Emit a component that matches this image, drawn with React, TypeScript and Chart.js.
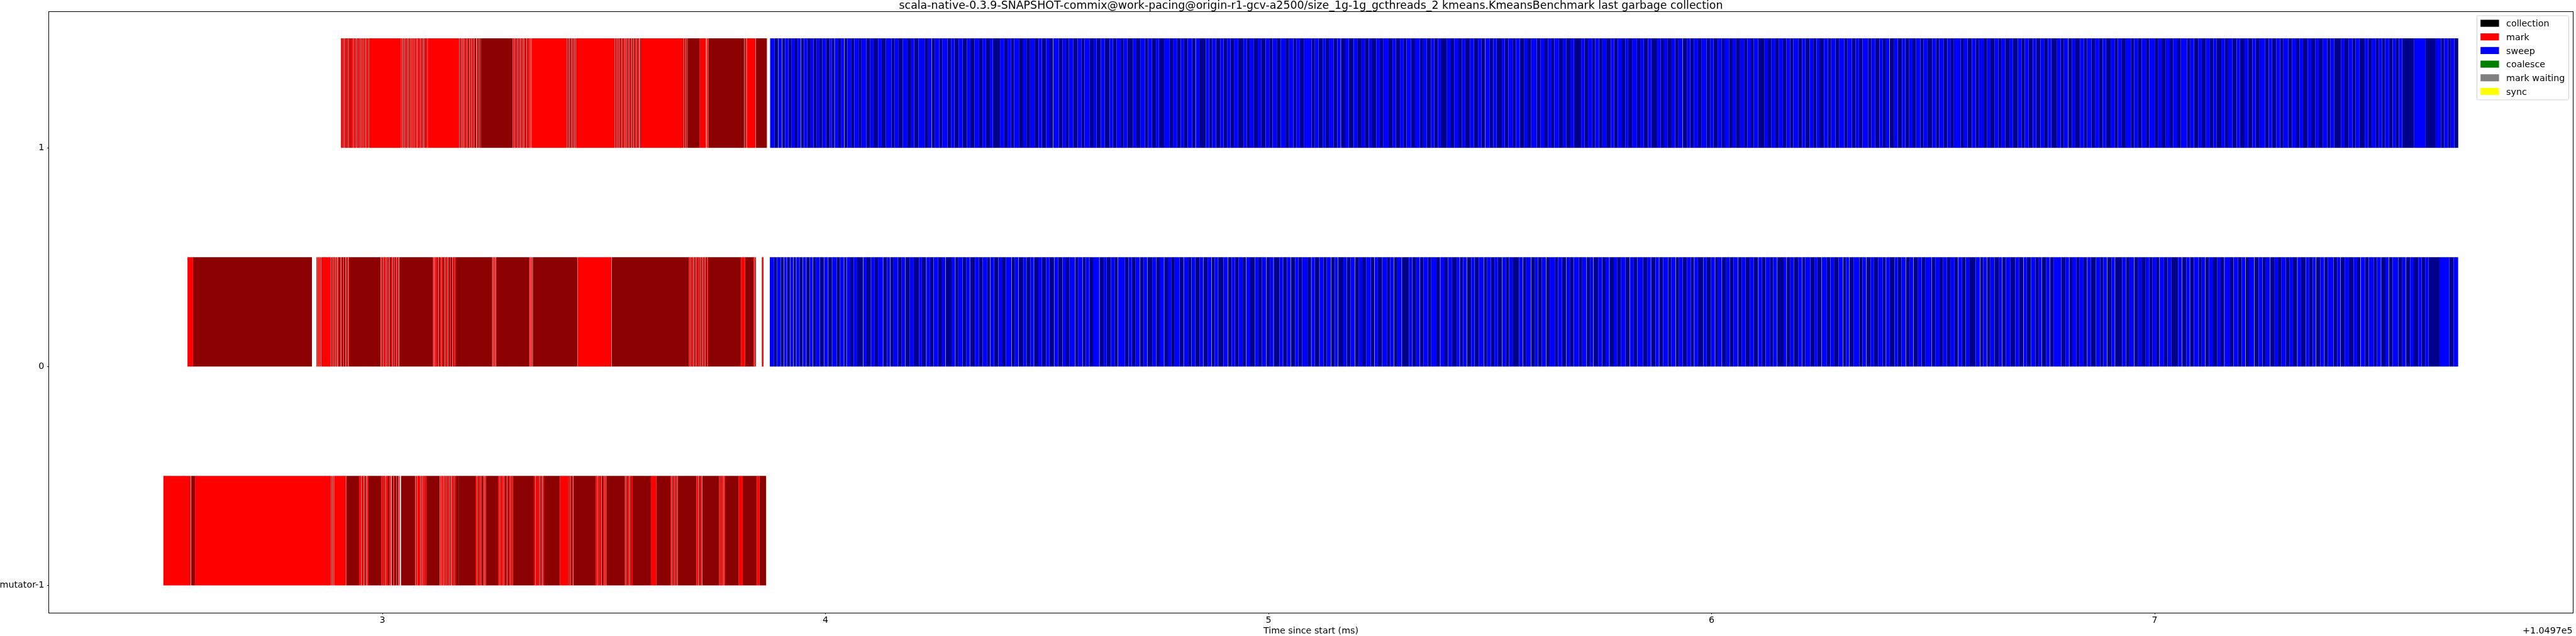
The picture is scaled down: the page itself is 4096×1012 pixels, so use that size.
import React, { useEffect, useRef } from 'react';
import { Chart, registerables } from 'chart.js';

Chart.register(...registerables);

// ---------------- data ----------------
const TITLE = 'scala-native-0.3.9-SNAPSHOT-commix@work-pacing@origin-r1-gcv-a2500/size_1g-1g_gcthreads_2 kmeans.KmeansBenchmark last garbage collection';
const X_LABEL = 'Time since start (ms)';
const X_OFFSET_TEXT = '+1.0497e5';
const X_MIN = 2.2466;
const X_MAX = 7.9447;
const Y_MIN = -1.125;
const Y_MAX = 1.625;
const xTicks = [3, 4, 5, 6, 7];
const rowValues = [-1, 0, 1];
const rowLabels = ['mutator-1', '0', '1'];
const BAR_HEIGHT = 0.5; // each row's bar spans [row, row + 0.5]

const legendLabels = ['collection', 'mark', 'sweep', 'coalesce', 'mark waiting', 'sync'];
const legendColors = ['#000000', '#ff0000', '#0000ff', '#008000', '#808080', '#ffff00'];

// durations in microseconds; 'm' mark, 'M' mark (alternate shade), 'g' idle gap
const mutatorMarkStart = 2.5056;
const mutatorMark: (string | number)[] = [
  'm', 61.8, 'g', 1.1, 'M', 8.5, 'm', 307.4, 'g', 0.7, 'M', 1.5, 'g', 0.7, 'm', 2.9, 'g', 0.7, 'm', 26.5, 'g', 0.7, 'M', 29.4,
  'm', 4.4, 'g', 0.7, 'm', 5.1, 'g', 0.7, 'm', 2.2, 'M', 2.9, 'm', 1.5, 'g', 0.7, 'm', 2.9, 'M', 29.4,
  'm', 4.4, 'M', 2.2, 'm', 2.9, 'g', 0.7, 'm', 4.4, 'M', 3.7, 'm', 2.9, 'g', 1.5, 'M', 3.7, 'm', 2.2, 'M', 4.4, 'g', 0.7, 'M', 3.7, 'g', 0.7, 'm', 2.9, 'g', 2.9, 'M', 32.4,
  'g', 0.7, 'm', 2.9, 'g', 0.7, 'm', 6.6, 'g', 0.7, 'm', 2.9, 'M', 1.5, 'g', 0.7, 'm', 3.7, 'M', 1.5, 'm', 2.9, 'M', 30.2,
  'g', 0.7, 'm', 2.9, 'g', 0.7, 'm', 3.7, 'g', 0.7, 'M', 1.5, 'm', 3.7, 'g', 0.7, 'M', 2.9, 'm', 3.7, 'g', 0.7, 'M', 2.2, 'm', 1.5, 'g', 0.7, 'm', 2.9, 'M', 2.2, 'm', 2.2, 'M', 1.5, 'm', 1.5, 'M', 5.9,
  'M', 38.2, 'm', 2.9, 'g', 0.7, 'm', 3.7, 'M', 2.2, 'm', 2.9, 'g', 0.7, 'M', 4.4, 'm', 2.9, 'g', 0.7, 'm', 2.2,
  'M', 27.9, 'm', 3.7, 'g', 0.7, 'M', 2.2, 'm', 4.4, 'g', 0.7, 'm', 2.9, 'M', 3.7, 'm', 2.2, 'g', 0.7, 'M', 2.9, 'm', 3.7, 'g', 0.7, 'M', 2.2, 'm', 2.9,
  'M', 47.1, 'm', 2.9, 'g', 0.7, 'm', 3.7, 'M', 1.5, 'm', 4.4, 'g', 0.7, 'M', 2.9, 'm', 2.2, 'g', 0.7, 'm', 2.9,
  'M', 36.0, 'm', 18.4, 'M', 2.2, 'm', 2.9, 'g', 0.7, 'M', 3.7, 'm', 2.2, 'g', 0.7,
  'M', 50.0, 'm', 3.7, 'g', 0.7, 'm', 2.9, 'M', 2.2, 'm', 3.7, 'g', 0.7, 'M', 2.9, 'm', 2.2, 'M', 1.5, 'm', 2.9, 'g', 0.7,
  'M', 41.9, 'm', 2.2, 'g', 0.7, 'M', 2.9, 'm', 3.7, 'g', 0.7, 'm', 2.2, 'M', 2.2, 'm', 2.9,
  'M', 41.2, 'm', 11.8, 'M', 32.4, 'm', 2.9, 'g', 0.7, 'M', 2.2, 'm', 3.7, 'g', 0.7, 'M', 2.9, 'm', 2.2, 'g', 0.7,
  'M', 42.7, 'm', 3.7, 'g', 0.7, 'm', 2.2, 'M', 2.9, 'm', 2.9, 'g', 0.7,
  'M', 38.2, 'm', 2.9, 'M', 2.2, 'm', 3.7, 'g', 0.7, 'M', 1.5, 'm', 2.2,
  'M', 30.9, 'm', 8.8, 'M', 31.6, 'm', 5.9, 'M', 15.4,
];

const row0MarkStart = 2.56;
const row0Mark: (string | number)[] = [
  'm', 12.5, 'M', 268.4, 'g', 10.3,
  'm', 2.9, 'g', 0.7, 'm', 2.9, 'g', 0.7, 'm', 2.9, 'g', 0.7, 'm', 21.6,
  'g', 0.7, 'M', 2.2, 'm', 2.2, 'g', 0.7, 'M', 1.5, 'm', 2.9, 'g', 0.7, 'M', 2.2, 'm', 1.5, 'g', 0.7, 'm', 2.9, 'M', 3.7, 'm', 1.5, 'g', 0.7, 'M', 2.9, 'm', 2.2, 'M', 3.7, 'g', 0.7, 'm', 2.2, 'M', 2.9, 'g', 0.7, 'm', 1.5,
  'M', 71.3,
  'g', 0.7, 'm', 2.9, 'M', 2.2, 'g', 0.7, 'm', 3.7, 'M', 1.5, 'm', 2.2, 'g', 0.7, 'M', 2.9, 'm', 2.2, 'g', 0.7, 'M', 3.7, 'm', 2.9, 'g', 0.7, 'M', 2.2, 'm', 2.2, 'M', 2.9, 'g', 0.7, 'm', 2.2, 'M', 2.2, 'm', 1.5, 'g', 0.7, 'M', 2.9,
  'M', 73.5,
  'g', 0.7, 'm', 2.2, 'g', 0.7, 'm', 2.9, 'M', 2.2, 'm', 3.7, 'g', 0.7, 'M', 2.9, 'm', 2.2, 'g', 0.7, 'm', 2.9, 'M', 3.7, 'g', 0.7, 'm', 2.2, 'M', 2.2, 'm', 2.9, 'g', 0.7, 'M', 2.9, 'm', 2.2, 'M', 3.7, 'g', 0.7, 'm', 2.2, 'M', 2.2, 'm', 2.2,
  'M', 83.1,
  'g', 0.7, 'm', 2.2, 'g', 0.7, 'M', 1.5, 'm', 2.2, 'g', 0.7, 'm', 0.8,
  'M', 75.0,
  'g', 0.7, 'm', 2.2, 'g', 0.7, 'm', 2.2, 'g', 0.7, 'M', 1.6,
  'M', 100.0, 'g', 0.7, 'm', 76.5, 'g', 0.7, 'M', 174.3,
  'm', 2.9, 'g', 0.7, 'M', 2.2, 'm', 3.7, 'g', 0.7, 'm', 2.2, 'M', 2.9, 'g', 0.7, 'm', 2.9, 'M', 2.2, 'm', 3.7, 'g', 0.7, 'M', 2.9, 'm', 2.2, 'g', 0.7, 'M', 2.2, 'm', 2.9, 'g', 0.7, 'M', 3.7, 'm', 2.2,
  'M', 74.3, 'm', 8.8, 'M', 19.9, 'm', 2.9, 'g', 0.7, 'M', 1.5, 'g', 13.2, 'm', 3.7,
];

const row1MarkStart = 2.9064;
const row1Mark: (string | number)[] = [
  'm', 2.9, 'M', 1.5, 'm', 2.9, 'g', 0.7, 'M', 1.5, 'm', 2.9, 'M', 2.2, 'm', 2.2, 'g', 0.7, 'M', 2.2, 'm', 2.9, 'M', 1.5, 'm', 3.7, 'g', 0.7, 'm', 2.9, 'M', 1.5, 'm', 2.9, 'g', 0.7, 'M', 2.2, 'm', 3.7, 'g', 0.7, 'm', 2.9, 'M', 1.5, 'm', 2.9, 'g', 0.7, 'M', 1.5, 'm', 2.9, 'g', 0.7, 'm', 2.9, 'M', 1.5, 'm', 2.2,
  'g', 0.7, 'm', 72.1,
  'g', 0.7, 'm', 2.9, 'g', 0.7, 'M', 1.5, 'm', 2.2, 'g', 0.7, 'm', 2.9, 'M', 1.5, 'g', 0.7, 'm', 2.9, 'g', 0.7, 'M', 2.2, 'm', 2.9, 'g', 0.7, 'm', 2.2, 'M', 1.5, 'm', 2.9, 'g', 0.7, 'M', 2.2, 'm', 2.9, 'g', 0.7, 'm', 2.2, 'M', 1.5, 'm', 2.9, 'g', 0.7, 'm', 2.9, 'M', 2.2, 'g', 0.7, 'm', 2.9, 'g', 0.7, 'M', 1.5, 'm', 5.1,
  'g', 0.7, 'm', 71.4,
  'g', 0.7, 'M', 2.2, 'm', 2.9, 'g', 0.7, 'm', 2.2, 'M', 1.5, 'g', 0.7, 'm', 2.9, 'M', 2.2, 'g', 0.7, 'm', 2.2, 'M', 2.9, 'g', 0.7, 'm', 2.2, 'M', 1.5, 'g', 0.7, 'm', 2.9, 'M', 2.2, 'g', 0.7, 'm', 2.2, 'M', 2.9, 'g', 0.7, 'm', 1.5, 'M', 2.9, 'g', 0.7, 'M', 2.2, 'm', 1.5, 'M', 2.9,
  'M', 70.6,
  'g', 0.7, 'm', 2.9, 'g', 0.7, 'm', 2.2, 'M', 1.5, 'm', 2.9, 'g', 0.7, 'M', 2.2, 'm', 2.9, 'g', 0.7, 'm', 2.2, 'M', 2.2, 'g', 0.7, 'm', 2.9, 'g', 0.7, 'M', 1.5, 'm', 2.9, 'g', 0.7, 'm', 2.2, 'M', 2.2, 'm', 2.9, 'g', 0.7, 'm', 2.2, 'g', 0.7,
  'm', 80.0,
  'g', 0.7, 'M', 2.2, 'm', 2.2, 'g', 0.7, 'M', 2.9, 'm', 2.2, 'g', 0.7, 'M', 2.2, 'm', 2.9, 'g', 0.7, 'M', 2.2, 'g', 0.7,
  'm', 87.5,
  'g', 0.7, 'M', 2.2, 'm', 2.9, 'g', 0.7, 'M', 1.5, 'm', 2.2, 'g', 0.7, 'M', 2.9, 'm', 2.2, 'g', 0.7, 'M', 2.2, 'm', 2.9, 'g', 0.7, 'M', 1.5, 'm', 2.2, 'g', 0.7, 'M', 2.9, 'm', 2.2, 'g', 0.7, 'M', 2.2, 'm', 2.9, 'g', 0.7, 'M', 2.2, 'm', 2.2, 'g', 0.7, 'M', 2.9, 'm', 2.2, 'g', 0.7, 'M', 2.2, 'm', 2.9, 'g', 0.7, 'M', 1.5, 'g', 0.7, 'M', 1.5,
  'm', 97.1,
  'g', 0.7, 'M', 1.5, 'm', 2.2, 'g', 0.7, 'M', 2.2, 'm', 0.8,
  'M', 27.9, 'm', 14.0, 'g', 1.5, 'm', 2.9, 'g', 0.7,
  'M', 80.9, 'g', 0.7, 'M', 2.9, 'm', 1.5, 'g', 0.8,
  'm', 19.9, 'g', 0.7, 'M', 24.3, 'g', 0.7, 'm', 0.7,
];

// sweep durations in microseconds: positive = sweep event (shades alternate),
// negative = idle gap, 'c' = coalesce event
const COALESCE_US = 0.6;
const row0SweepStart = 3.8743;
const row0Sweep: (string | number)[] = [
  9.6, 5.9, 'c', 8.1, 'c', 6.6, -0.7, 5.9, -0.7, 6.6, -0.7, 6.6, -0.7, 5.9, -0.7, 6.6, 'c', 6.6, -0.7, 7.4, -0.7, 7.4, 'c', 6.6, -0.7, 5.9, 8.8, 'c', 8.8, -0.7, 8.8, -0.7, 8.1, 'c', 9.6, 'c', 7.4, 'c', 8.1, -0.7, 5.1, -0.7, 8.1,
  7.4, 8.1, 13.2, -0.7, 7.4, 9.6, 'c', 8.1, 7.4, 11.0, -0.7, 8.8, 6.6, -0.7, 7.4, 9.6, 'c', 8.1, 7.4, -0.7, 10.3, 8.8,
  11.8, 6.6, 9.6, -0.7, 8.1, 7.4, 'c', 10.3, 8.8, 7.4, -0.7, 13.2, 8.1, -0.7, 6.6, 9.6, 'c', 8.1, 7.4, -0.7, 11.0, 8.8,
  8.8, 10.3, 6.6, -0.7, 8.1, 9.6, 'c', 7.4, 8.8, 12.5, -0.7, 7.4, 8.1, -0.7, 10.3, 6.6, 'c', 8.8, 7.4, -0.7, 9.6, 8.1,
  9.6, 7.4, 10.3, -0.7, 8.8, 9.6, 'c', 7.4, 8.1, 11.8, -0.7, 6.6, 9.6, -0.7, 7.4, 7.4, 'c', 8.1, 14.0, -0.7, 9.6, 6.6,
  9.6, 8.1, 7.4, -0.7, 15.4, 8.1, 'c', 6.6, 8.8, 9.6, -0.7, 7.4, 8.1, -0.7, 11.0, 8.8, 'c', 7.4, 9.6, -0.7, 8.1, 7.4,
  8.1, 11.0, 8.8, -0.7, 9.6, 7.4, 'c', 8.1, 10.3, 7.4, -0.7, 9.6, 8.8, -0.7, 6.6, 7.4, 'c', 11.8, 9.6, -0.7, 8.1, 7.4,
  8.1, 9.6, 7.4, -0.7, 8.8, 10.3, 'c', 7.4, 8.1, 9.6, -0.7, 7.4, 8.1, -0.7, 13.2, 7.4, 'c', 8.8, 8.1, -0.7, 9.6, 7.4,
  8.1, 12.5, 8.1, -0.7, 7.4, 10.3, 'c', 8.8, 7.4, 9.6, -0.7, 8.1, 6.6, -0.7, 11.8, 7.4, 'c', 8.1, 9.6, -0.7, 8.8, 7.4,
  8.8, 10.3, 8.1, -0.7, 7.4, 9.6, 'c', 11.0, 6.6, 8.1, -0.7, 7.4, 9.6, -0.7, 16.2, 6.6, 'c', 8.8, 8.1, -0.7, 7.4, 10.3,
  7.4, 11.8, 8.1, -0.7, 9.6, 7.4, 'c', 8.8, 10.3, 6.6, -0.7, 7.4, 8.1, -0.7, 9.6, 7.4, 'c', 8.8, 11.0, -0.7, 7.4, 8.1,
  8.1, 7.4, 9.6, -0.7, 8.8, 6.6, 'c', 7.4, 14.7, 8.1, -0.7, 7.4, 10.3, -0.7, 8.8, 6.6, 'c', 8.1, 9.6, -0.7, 7.4, 12.5,
  6.6, 8.8, 9.6, -0.7, 7.4, 8.1, 'c', 11.8, 7.4, 9.6, -0.7, 8.1, 6.6, -0.7, 10.3, 8.8, 'c', 7.4, 8.1, -0.7, 9.6, 7.4,
  8.5, 10.3, 9.6, -0.7, 8.8, 7.4, 'c', 12.5, 9.6, 8.1, -0.7, 10.3, 7.4, -0.7, 8.8, 11.0, 'c', 6.6, 9.6, -0.7, 7.4, 8.1,
  9.6, 8.8, 7.4, -0.7, 8.1, 11.8, 'c', 7.4, 9.6, 8.8, -0.7, 6.6, 8.1, -0.7, 9.6, 7.4, 'c', 8.1, 10.3, -0.7, 7.4, 8.8,
  9.6, 8.8, 10.3, -0.7, 7.4, 8.1, 'c', 9.6, 7.4, 8.8, -0.7, 14.0, 6.6, -0.7, 8.1, 7.4, 'c', 9.6, 8.1, -0.7, 7.4, 11.0,
  9.6, 6.6, 8.8, -0.7, 11.8, 7.4, 'c', 8.1, 10.3, 9.6, -0.7, 6.6, 7.4, -0.7, 8.8, 12.5, 'c', 7.4, 8.1, -0.7, 9.6, 7.4,
  9.7, 9.6, 7.4, -0.7, 8.1, 11.0, 'c', 6.6, 8.1, 9.6, -0.7, 8.8, 7.4, -0.7, 10.3, 8.1, 'c', 7.4, 14.0, -0.7, 8.1, 9.6, 7.4, 8.8,
  8.1, 9.6, 7.4, -0.7, 8.8, 8.1, 'c', 7.4, 14.7, 9.6, -0.7, 6.6, 8.1, -0.7, 7.4, 8.8, 'c', 9.6, 7.4, -0.7, 8.1, 10.3,
  11.0, 8.1, 9.6, -0.7, 7.4, 8.8, 'c', 10.3, 7.4, 6.6, -0.7, 9.6, 8.1, -0.7, 7.4, 17.6, 'c', 8.8, 8.1, -0.7, 6.6, 9.6,
  6.2, 9.6, 8.1, -0.7, 7.4, 11.8, 'c', 8.8, 7.4, 8.1, -0.7, 9.6, 7.4, -0.7, 16.2, 8.1, 'c', 7.4, 10.3, -0.7, 8.8, 7.4, 9.6, 8.1,
  7.4, 8.8, 6.6, -0.7, 9.6, 8.1, 'c', 7.4, 16.2, 8.1, -0.7, 9.6, 7.4, -0.7, 8.8, 10.3, 'c', 6.6, 8.1, -0.7, 7.4, 9.6,
  9.6, 7.4, 8.1, -0.7, 12.5, 7.4, 'c', 9.6, 8.8, 8.1, -0.7, 7.4, 11.8, -0.7, 9.6, 8.1, 'c', 7.4, 8.8, -0.7, 10.3, 7.4, 8.1, 9.6,
  8.8, 7.4, 9.6, -0.7, 8.1, 10.3, 'c', 7.4, 8.1, 6.6, -0.7, 9.6, 8.8, -0.7, 7.4, 12.5, 'c', 8.1, 7.4, -0.7, 8.8, 9.6,
  10.4, 8.1, 7.4, -0.7, 9.6, 8.1, 'c', 11.0, 7.4, 8.8, -0.7, 9.6, 7.4, -0.7, 8.1, 12.5, 'c', 8.8, 7.4, -0.7, 9.6, 8.1, 10.3, 7.4,
  8.1, 7.4, 25.0, 22.1, 9.6, 10.3,
];

const row1SweepStart = 3.875;
const row1Sweep: (string | number)[] = [
  9.6, 8.8, -0.7, 7.4, -0.7, 6.6, 7.4, 7.4, 7.4, 5.9, 7.4, -0.7, 6.6, 7.4, 7.4, 6.6, 7.4, 5.9, 6.6, 8.1, 8.8, 4.4, 5.9, -0.7, 8.1, 5.9, 7.4, -0.7, 6.6,
  8.1, 7.4, 9.6, 6.6, 11.0, 8.8, 7.4, 10.3, 8.1, 9.6, 12.5, 7.4, 8.8, 9.6, 10.3, 8.5,
  6.6, 9.6, 14.0, 8.1, 7.4, -0.7, 7.4, 9.6, 6.6, 11.8, 8.1, 7.4, 9.6, 8.8, 10.3, 7.4, 9.6,
  10.3, 7.4, 8.1, 8.8, 6.6, 16.2, 9.6, 7.4, 8.1, 6.6, 11.0, 9.6, 7.4, 8.1, 10.3, 8.8,
  7.4, 9.6, 8.1, 7.4, -0.7, 12.5, 8.8, 7.4, 6.6, 9.6, 10.3, 8.1, 7.4, 11.8, 8.8, 6.6, 9.6,
  8.8, 11.0, 7.4, 8.1, 9.6, 6.6, 8.1, 13.2, 7.4, 8.8, 10.3, 7.4, 8.1, 9.6, 6.6, 11.8,
  12.5, 7.4, 9.6, 8.1, 6.6, 8.8, 10.3, 7.4, -0.7, 8.1, 14.7, 7.4, 6.6, 8.8, 9.6, 7.4, 8.1,
  7.4, 8.1, 9.6, 11.8, 7.4, 6.6, 8.8, 9.6, 7.4, 10.3, 8.1, 7.4, 9.6, 8.8, 11.0, 8.1,
  9.6, 6.6, 8.1, 8.8, 17.6, 7.4, 8.1, 9.6, 6.6, 7.4, 10.3, 8.8, 7.4, -0.7, 9.6, 8.1, 11.0,
  8.1, 9.6, 7.4, 8.8, 6.6, 10.3, 8.1, 7.4, 12.5, 8.8, 7.4, 9.6, 8.1, 6.6, 10.3, 8.8,
  11.0, 7.4, 8.1, 9.6, 7.4, 8.1, 6.6, 14.0, 8.8, 7.4, 9.6, 8.1, 7.4, 10.3, 8.8, 9.6,
  7.4, 8.8, -0.7, 9.6, 8.1, 7.4, 11.8, 6.6, 8.1, 9.6, 7.4, 8.8, 10.3, 7.4, 8.1, 12.5, 8.1,
  9.6, 7.4, 8.1, 6.6, 10.3, 8.8, 7.4, 9.6, 8.1, 16.2, 7.4, 8.1, 9.6, 6.6, 8.8, 7.4,
  8.8, 10.3, 7.4, 8.1, 9.6, 7.4, 6.6, 8.8, 11.0, 7.4, 8.1, 9.6, 7.4, 13.2, 8.1, 7.4,
  7.4, 9.6, 8.1, 7.4, 8.8, -0.7, 10.3, 6.6, 8.1, 9.6, 7.4, 11.8, 8.1, 7.4, 9.6, 8.8, 6.6,
  10.3, 8.1, 7.4, 9.6, 8.8, 7.4, 8.1, 6.6, 9.6, 14.7, 7.4, 8.1, 8.8, 7.4, 9.6, 8.1,
  8.1, 7.4, 11.0, 8.8, 7.4, 9.6, 8.1, 7.4, 6.6, 10.3, 8.8, 7.4, 9.6, 8.1, 11.8, 7.4,
  9.6, 8.8, 7.4, 8.1, 12.5, 7.4, 8.8, 9.6, 6.6, 8.1, 7.4, -0.7, 10.3, 8.1, 9.6, 7.4, 8.8,
  7.4, 8.1, 9.6, 7.4, 8.8, 11.0, 8.1, 7.4, 9.6, 8.8, 6.6, 8.1, 15.4, 7.4, 8.1, 9.6,
  8.8, 7.4, 10.3, 8.1, 7.4, 9.6, 8.1, 6.6, 8.8, 9.6, 7.4, 11.8, 8.1, 7.4, 8.8, 9.6,
  7.4, 9.6, 8.1, 8.8, 7.4, 13.2, 8.1, 7.4, 9.6, -0.7, 8.1, 7.4, 10.3, 8.8, 7.4, 9.6, 8.1,
  9.6, 8.1, 7.4, 10.3, 8.8, 7.4, 8.1, 9.6, 11.8, 7.4, 8.1, 8.8, 9.6, 7.4, 12.5, 8.1, 7.4, 9.6,
  8.8, 7.4, 9.6, 8.1, 14.0, 7.4, 8.1, 10.3, 7.4, 8.8, 9.6, 8.1, 6.6, 11.0, 8.1, 7.4, 9.6, 9.7,
  7.4, 10.3, 8.1, 9.6, 7.4, 8.8, 12.5, 8.1, 7.4, 9.6, 8.8, 7.4, 11.0, 8.1, 9.6, 7.4, 8.1, 10.4,
  8.1, 9.6, 7.4, 8.8, 10.3, 7.4, 8.1, 16.2, 7.4, 9.6, 8.1, 7.4, 8.8, 11.8, 7.4, 8.1, 9.6, 6.2,
  7.4, 7.4, 8.8, 8.1, 6.6, 7.4, 7.4, 27.2, 25.7, 22.8, 11.8, 7.4, 8.8, 5.9, 8.1, 8.8,
];

const phaseColors = {
  mark: '#ff0000',
  markDark: '#8b0000',
  sweep: '#0000ff',
  sweepDark: '#00008b',
  coalesce: '#008000',
};

// ---------------- build ----------------
type Seg = { x: [number, number]; y: number };

function buildSegments() {
  const US = 0.001;
  const out: Record<string, Seg[]> = { mark: [], markDark: [], sweep: [], sweepDark: [], coalesce: [] };
  const yOf = (row: number) => row + BAR_HEIGHT / 2;
  const addMark = (row: number, start: number, tokens: (string | number)[]) => {
    let t = start;
    for (let i = 0; i < tokens.length; i += 2) {
      const k = tokens[i] as string;
      const d = (tokens[i + 1] as number) * US;
      if (k === 'm') out.mark.push({ x: [t, t + d], y: yOf(row) });
      else if (k === 'M') out.markDark.push({ x: [t, t + d], y: yOf(row) });
      t += d;
    }
  };
  const addSweep = (row: number, start: number, values: (string | number)[]) => {
    let t = start;
    let n = 0;
    for (const v of values) {
      if (v === 'c') {
        const d = COALESCE_US * US;
        out.coalesce.push({ x: [t, t + d], y: yOf(row) });
        t += d;
      } else if ((v as number) < 0) {
        t += -(v as number) * US;
      } else {
        const d = (v as number) * US;
        (n % 2 === 0 ? out.sweep : out.sweepDark).push({ x: [t, t + d], y: yOf(row) });
        t += d;
        n++;
      }
    }
  };
  addMark(rowValues[0], mutatorMarkStart, mutatorMark);
  addMark(rowValues[1], row0MarkStart, row0Mark);
  addMark(rowValues[2], row1MarkStart, row1Mark);
  addSweep(rowValues[1], row0SweepStart, row0Sweep);
  addSweep(rowValues[2], row1SweepStart, row1Sweep);
  return out;
}

// ---------------- layout (px in 4096x1012 canvas) ----------------
const W = 4096;
const H = 1012;
const FONT = '"DejaVu Sans"';
const TICK_FONT = 14.25;
const TITLE_FONT = 17.4;

const decorPlugin = {
  id: 'decor',
  afterDraw(chart: any) {
    const { ctx, chartArea } = chart;
    const { left, right, top, bottom } = chartArea;
    ctx.save();
    // frame (all four spines)
    ctx.strokeStyle = '#000';
    ctx.lineWidth = 1;
    ctx.strokeRect(Math.round(left) + 0.5, Math.round(top) + 0.5, Math.round(right) - Math.round(left) - 1, Math.round(bottom) - Math.round(top));
    // title
    ctx.fillStyle = '#000';
    ctx.font = `${TITLE_FONT}px ${FONT}`;
    ctx.textAlign = 'center';
    ctx.textBaseline = 'alphabetic';
    ctx.fillText(TITLE, (left + right) / 2, 14);
    // x label and offset
    ctx.font = `${TICK_FONT}px ${FONT}`;
    ctx.fillText(X_LABEL, (left + right) / 2, 1008);
    ctx.textAlign = 'right';
    ctx.fillText(X_OFFSET_TEXT, 4090.6, 1008);
    // legend
    const bx = 3938.5, by = 25.0, bw = 145.9, bh = 133.9;
    ctx.beginPath();
    ctx.roundRect(bx, by, bw, bh, 2);
    ctx.fillStyle = 'rgba(255,255,255,0.8)';
    ctx.fill();
    ctx.strokeStyle = '#d0d0d0';
    ctx.lineWidth = 1;
    ctx.stroke();
    ctx.textAlign = 'left';
    legendLabels.forEach((label, i) => {
      const cy = 37.04 + i * 21.68;
      ctx.fillStyle = legendColors[i];
      ctx.fillRect(3944.2, cy - 5.6, 29.4, 11.2);
      ctx.fillStyle = '#000';
      ctx.fillText(label, 3985.1, cy + 5.4);
    });
    ctx.restore();
  },
};

export default function App() {
  const ref = useRef<HTMLCanvasElement>(null);
  useEffect(() => {
    document.body.style.margin = '0';
    const segs = buildSegments();
    const common = {
      grouped: false,
      categoryPercentage: 1,
      barPercentage: BAR_HEIGHT,
      borderWidth: 0,
      inflateAmount: 0,
      borderSkipped: false,
    };
    const datasets = (Object.keys(phaseColors) as (keyof typeof phaseColors)[]).map((k) => ({
      label: k,
      data: segs[k],
      backgroundColor: phaseColors[k],
      ...common,
    }));
    const chart = new Chart(ref.current as HTMLCanvasElement, {
      type: 'bar',
      data: { datasets } as any,
      options: {
        indexAxis: 'y',
        animation: false,
        responsive: false,
        devicePixelRatio: 1,
        events: [],
        layout: { padding: { left: 0, top: 17.6, right: 4.3, bottom: 0 } },
        plugins: { legend: { display: false }, tooltip: { enabled: false }, title: { display: false } },
        scales: {
          x: {
            type: 'linear',
            position: 'bottom',
            min: X_MIN,
            max: X_MAX,
            beginAtZero: false,
            afterBuildTicks: (s: any) => { s.ticks = xTicks.map((v) => ({ value: v })); },
            afterFit: (s: any) => { s.height = H - 974.9; },
            ticks: {
              autoSkip: false,
              maxRotation: 0,
              padding: 1,
              color: '#000',
              font: { family: FONT, size: TICK_FONT },
              callback: (v: any) => String(v),
            },
            grid: { display: true, drawOnChartArea: false, drawTicks: true, tickLength: 2.5, tickColor: '#000', tickWidth: 1 },
            border: { display: false },
          },
          y: {
            type: 'linear',
            min: Y_MIN,
            max: Y_MAX,
            offset: false,
            beginAtZero: false,
            afterBuildTicks: (s: any) => { s.ticks = rowValues.map((v) => ({ value: v })); },
            afterFit: (s: any) => { s.width = 77.3; },
            ticks: {
              autoSkip: false,
              padding: 4.5,
              color: '#000',
              font: { family: FONT, size: TICK_FONT },
              callback: (v: any) => rowLabels[rowValues.indexOf(Number(v))],
            },
            grid: { display: true, offset: false, drawOnChartArea: false, drawTicks: true, tickLength: 2.5, tickColor: '#000', tickWidth: 1 },
            border: { display: false },
          },
        },
      } as any,
      plugins: [decorPlugin],
    });
    return () => chart.destroy();
  }, []);
  return <canvas ref={ref} width={W} height={H} style={{ display: 'block' }} />;
}
